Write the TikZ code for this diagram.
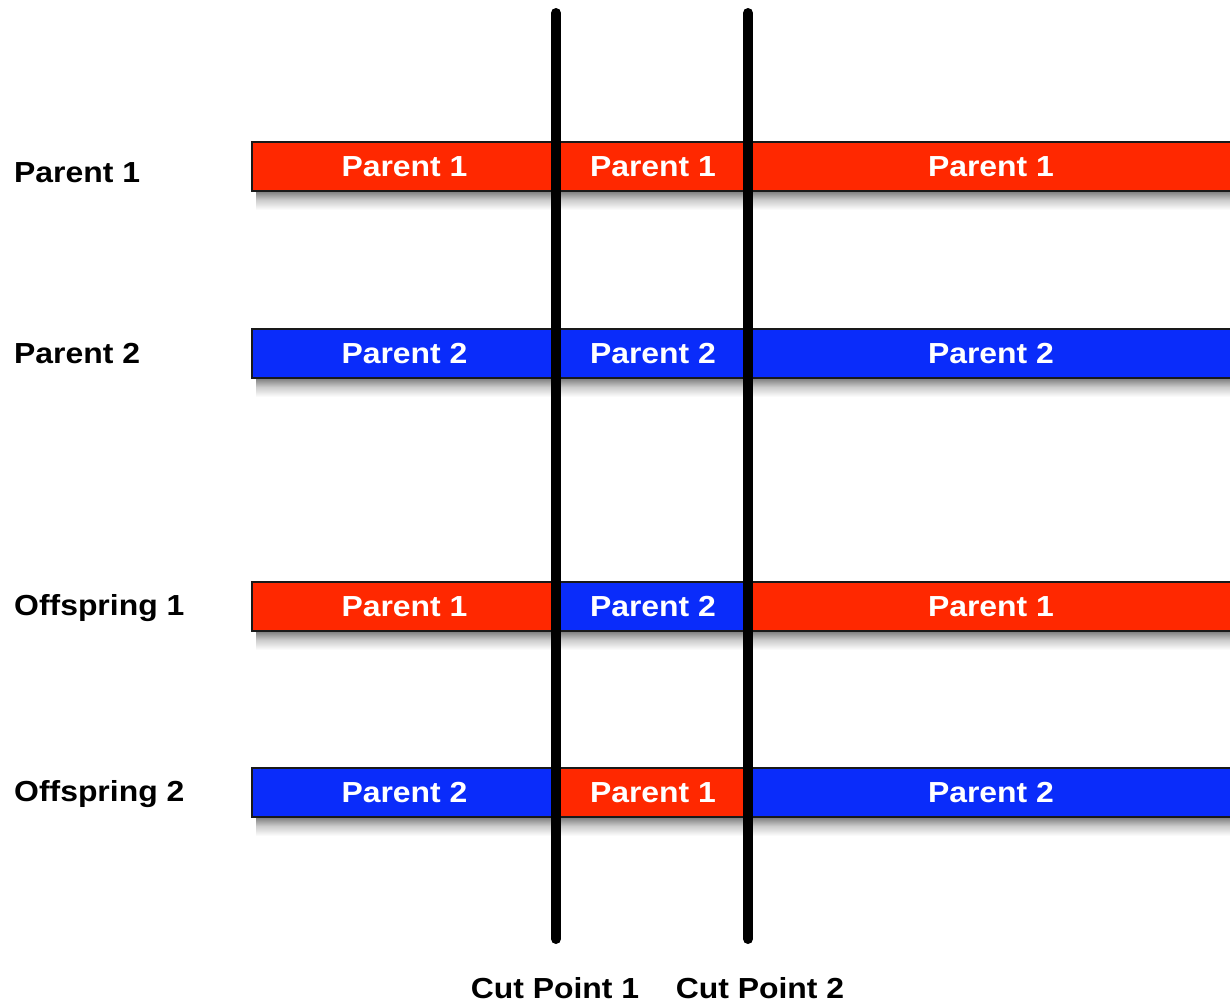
\documentclass[tikz,border=0pt]{standalone}
\usepackage{fontspec}
\setmainfont{Liberation Sans}[FakeStretch=1.1]
\definecolor{redseg}{RGB}{255,40,0}
\definecolor{blueseg}{RGB}{10,44,250}
\tikzset{
  seg/.style={draw=black!90, line width=2pt, minimum height=49pt, inner sep=0pt,
    anchor=north west, text=white, font=\fontsize{29}{34}\selectfont\bfseries},
  segA/.style={seg, minimum width=305pt},
  segB/.style={seg, minimum width=192pt},
  segC/.style={seg, minimum width=484pt},
  rowshadow/.style={top color=black!55, bottom color=white, middle color=black!20, draw=none},
  rowlabel/.style={anchor=base west, inner sep=0pt, font=\fontsize{29}{34}\selectfont\bfseries},
  cutlabel/.style={anchor=base, inner sep=0pt, font=\fontsize{29}{34}\selectfont\bfseries},
  cutline/.style={line width=10pt, line cap=round, black}
}
\begin{document}
\begin{tikzpicture}[x=1pt, y=-1pt]
\useasboundingbox (0,0) rectangle (1230,1002);
\clip (0,0) rectangle (1230,1002);
\fill[white] (0,0) rectangle (1230,1002);

% Shadows
\foreach \b in {190,377,630,816}{
  \shade[rowshadow] (256,\b) rectangle (1240,\b+20);
}

% Row 1: Parent 1
\node[segA, fill=redseg]  (p1a) at (251,141) {Parent 1};
\node[segB, fill=redseg]  (p1b) at (556,141) {Parent 1};
\node[segC, fill=redseg]  (p1c) at (748,141) {Parent 1};
% Row 2: Parent 2
\node[segA, fill=blueseg] (p2a) at (251,328) {Parent 2};
\node[segB, fill=blueseg] (p2b) at (556,328) {Parent 2};
\node[segC, fill=blueseg] (p2c) at (748,328) {Parent 2};
% Row 3: Offspring 1
\node[segA, fill=redseg]  (o1a) at (251,581) {Parent 1};
\node[segB, fill=blueseg] (o1b) at (556,581) {Parent 2};
\node[segC, fill=redseg]  (o1c) at (748,581) {Parent 1};
% Row 4: Offspring 2
\node[segA, fill=blueseg] (o2a) at (251,767) {Parent 2};
\node[segB, fill=redseg]  (o2b) at (556,767) {Parent 1};
\node[segC, fill=blueseg] (o2c) at (748,767) {Parent 2};

% Row labels
\node[rowlabel] (l1) at (14,182) {Parent 1};
\node[rowlabel] (l2) at (14,363) {Parent 2};
\node[rowlabel] (l3) at (14,615) {Offspring 1};
\node[rowlabel] (l4) at (14,801) {Offspring 2};

% Cut lines
\coordinate (c1top) at (556,13);
\coordinate (c1bot) at (556,939);
\coordinate (c2top) at (748,13);
\coordinate (c2bot) at (748,939);
\draw[cutline] (c1top) -- (c1bot);
\draw[cutline] (c2top) -- (c2bot);

% Cut labels
\node[cutlabel] (cp1) at (555,998) {Cut Point 1};
\node[cutlabel] (cp2) at (760,998) {Cut Point 2};
\end{tikzpicture}
\end{document}
